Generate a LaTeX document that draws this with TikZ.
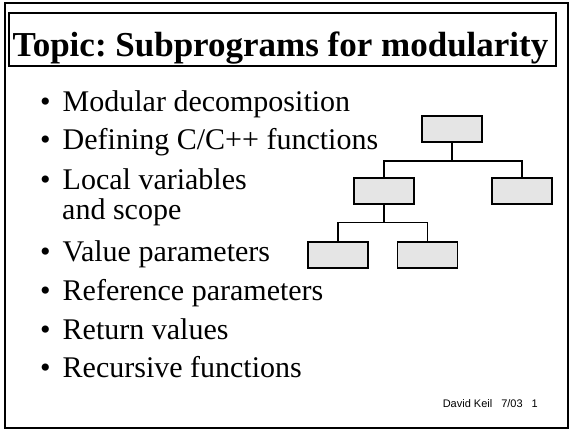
\documentclass[tikz,border=0pt]{standalone}
\usepackage{fontspec}
\setmainfont{Liberation Serif}
\newfontfamily\footfont{Liberation Sans}
\newcommand{\itm}[1]{\textbullet\hspace{12pt}#1}
\frenchspacing
\begin{document}
\begin{tikzpicture}
[
x=1pt, y=-1pt,
Frame/.style={draw=black, line width=2.2pt},
Titlebox/.style={rectangle, draw=black, line width=2.2pt, minimum width=547pt, minimum height=53pt, inner sep=0pt},
Item/.style={anchor=base west, inner sep=0pt, font=\fontsize{30}{36}\selectfont, align=left},
Box/.style={rectangle, draw=black, fill=black!10, line width=1.8pt, minimum width=60pt, minimum height=26pt, inner sep=0pt},
Link/.style={-, draw=black, line width=1.8pt},
Foot/.style={anchor=base east, inner sep=0pt, font=\footfont\fontsize{11}{13}\selectfont},
]

\useasboundingbox (0,0) rectangle (571,430);
\draw[Frame] (5,3) rectangle (568,428);

\node[Titlebox] (title) at (282.5,39.5) {};
\node[anchor=base, inner sep=0pt, font=\fontsize{35}{40}\selectfont\bfseries] (head) at (280.5,57) {Topic: Subprograms for modularity};

%\node[Item] at (40,112) {\itm{Modular decomposition}};
\node[Item] (i1) at (40,112) {\itm{Modular decomposition}};
\node[Item] (i2) at (40,150) {\itm{Defining C/C++ functions}};
\node[Item] (i3) at (40,190) {\itm{Local variables}};
\node[Item] (i3b) at (62,220) {and scope};
\node[Item] (i4) at (40,262) {\itm{Value parameters}};
\node[Item] (i5) at (40,301) {\itm{Reference parameters}};
\node[Item] (i6) at (40,340) {\itm{Return values}};
\node[Item] (i7) at (40,378) {\itm{Recursive functions}};

\node[Box] (top) at (451.7,128.7) {};
\node[Box] (mid) at (384,190.7) {};
\node[Box] (right) at (521.7,190.7) {};
\node[Box] (lowl) at (337.8,254.7) {};
\node[Box] (lowr) at (427.5,254.7) {};

\draw[Link] (top.south) -- ++(0,18.3) coordinate (j1);
\draw[Link] (mid.north) |- (j1) -| (right.north);
\draw[Link] (mid.south) -- ++(0,18) coordinate (j2);
\draw[Link] (lowl.north) |- (j2) -| (lowr.north);

\node[Foot] (foot) at (538,408) {David Keil\hspace{9pt}7/03\hspace{9pt}1};

\end{tikzpicture}
\end{document}
